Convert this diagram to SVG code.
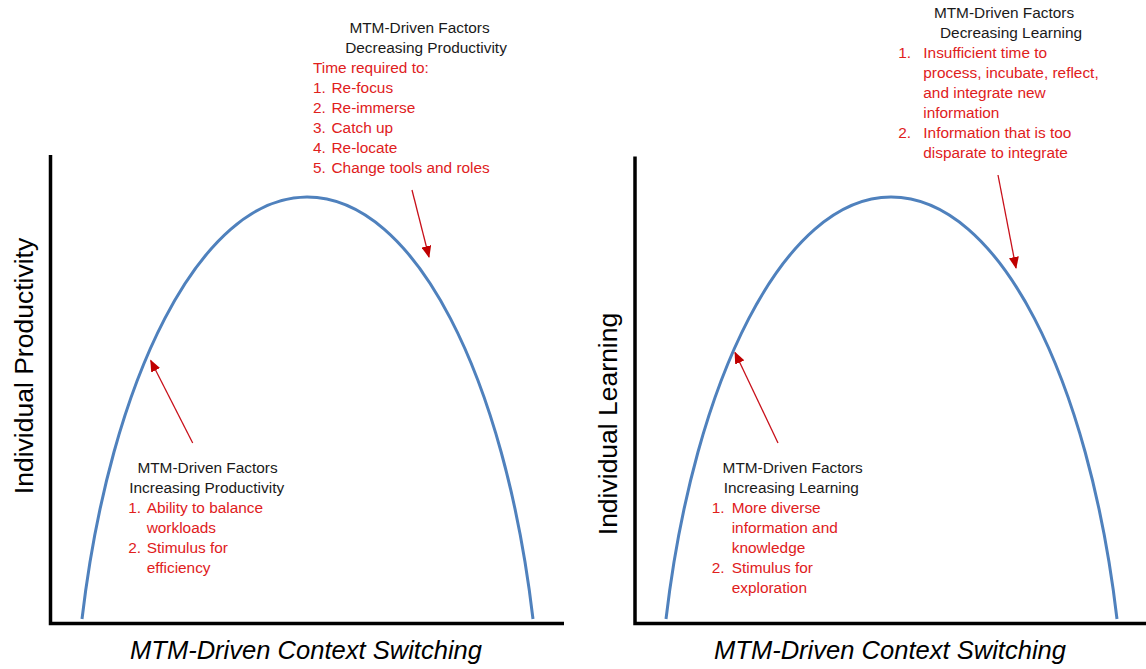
<svg xmlns="http://www.w3.org/2000/svg" width="1146" height="669" viewBox="0 0 1146 669">
<defs>
<style>
.axis{stroke:#000;stroke-width:3.5;fill:none;stroke-linecap:butt}
.curve{stroke:#4f81bd;stroke-width:3;fill:none}
.arr{stroke:#c8101a;stroke-width:1.3;fill:none}
.t{font-family:"Liberation Sans",Arial,sans-serif;font-size:15.4px;fill:#1a1a1a}
.c{text-anchor:middle}
.r{font-family:"Liberation Sans",Arial,sans-serif;font-size:15.4px;fill:#e0201c}
.ylab{font-family:"Liberation Sans",Arial,sans-serif;font-size:26.5px;fill:#000;text-anchor:middle}
.xlab{font-family:"Liberation Sans",Arial,sans-serif;font-size:25.5px;font-style:italic;fill:#000;text-anchor:middle}
</style>
<marker id="ah" markerWidth="12" markerHeight="10" refX="11" refY="5" orient="auto" markerUnits="userSpaceOnUse">
<path d="M0,0 L12,5 L0,10 Z" fill="#c00000"/>
</marker>
</defs>
<rect width="1146" height="669" fill="#fff"/>

<g id="chart-productivity">
<path class="axis" d="M50.5,155 V623.5 H564"/>
<path class="curve" d="M82,619 C110,380 200,197 307,197 C416,197 505,380 533,619"/>
<text class="ylab" transform="translate(33,366) rotate(-90)">Individual Productivity</text>
<text class="xlab" x="306" y="659" textLength="352" lengthAdjust="spacingAndGlyphs">MTM-Driven Context Switching</text>
</g>

<g id="chart-learning">
<path class="axis" d="M635,156.5 V623.5 H1146"/>
<path class="curve" d="M666,619 C694,380 784,197 891,197 C1000,197 1089,380 1117,619"/>
<text class="ylab" transform="translate(617,424) rotate(-90)">Individual Learning</text>
<text class="xlab" x="890" y="659" textLength="352" lengthAdjust="spacingAndGlyphs">MTM-Driven Context Switching</text>
</g>

<g id="decreasing-productivity">
<text class="t c" x="419.5" y="33">MTM-Driven Factors</text>
<text class="t c" x="426" y="53">Decreasing Productivity</text>
<text class="r" x="313" y="73">Time required to:</text>
<text class="r" x="313" y="93">1.</text><text class="r" x="331.5" y="93">Re-focus</text>
<text class="r" x="313" y="113">2.</text><text class="r" x="331.5" y="113">Re-immerse</text>
<text class="r" x="313" y="133">3.</text><text class="r" x="331.5" y="133">Catch up</text>
<text class="r" x="313" y="153">4.</text><text class="r" x="331.5" y="153">Re-locate</text>
<text class="r" x="313" y="173">5.</text><text class="r" x="331.5" y="173">Change tools and roles</text>
</g>

<g id="increasing-productivity">
<text class="t c" x="207.5" y="473">MTM-Driven Factors</text>
<text class="t c" x="206.7" y="493">Increasing Productivity</text>
<text class="r" x="128.3" y="513">1.</text><text class="r" x="146.7" y="513">Ability to balance</text>
<text class="r" x="146.7" y="533">workloads</text>
<text class="r" x="128.3" y="553">2.</text><text class="r" x="146.7" y="553">Stimulus for</text>
<text class="r" x="146.7" y="573">efficiency</text>
</g>

<g id="decreasing-learning">
<text class="t c" x="1004" y="17.5">MTM-Driven Factors</text>
<text class="t c" x="1011" y="37.5">Decreasing Learning</text>
<text class="r" x="898.3" y="57.5">1.</text><text class="r" x="923.3" y="57.5">Insufficient time to</text>
<text class="r" x="923.3" y="77.5">process, incubate, reflect,</text>
<text class="r" x="923.3" y="97.5">and integrate new</text>
<text class="r" x="923.3" y="117.5">information</text>
<text class="r" x="898.3" y="137.5">2.</text><text class="r" x="923.3" y="137.5">Information that is too</text>
<text class="r" x="923.3" y="157.5">disparate to integrate</text>
</g>

<g id="increasing-learning">
<text class="t c" x="792.7" y="473">MTM-Driven Factors</text>
<text class="t c" x="791.3" y="493">Increasing Learning</text>
<text class="r" x="711.7" y="513">1.</text><text class="r" x="731.7" y="513">More diverse</text>
<text class="r" x="731.7" y="533">information and</text>
<text class="r" x="731.7" y="553">knowledge</text>
<text class="r" x="711.7" y="573">2.</text><text class="r" x="731.7" y="573">Stimulus for</text>
<text class="r" x="731.7" y="593">exploration</text>
</g>

<g id="connectors">
<line class="arr" x1="192.7" y1="443" x2="150.7" y2="360.5" marker-end="url(#ah)"/>
<line class="arr" x1="412" y1="190" x2="429" y2="257" marker-end="url(#ah)"/>
<line class="arr" x1="778" y1="443" x2="735" y2="352.5" marker-end="url(#ah)"/>
<line class="arr" x1="998" y1="175" x2="1016" y2="268" marker-end="url(#ah)"/>
</g>
</svg>
